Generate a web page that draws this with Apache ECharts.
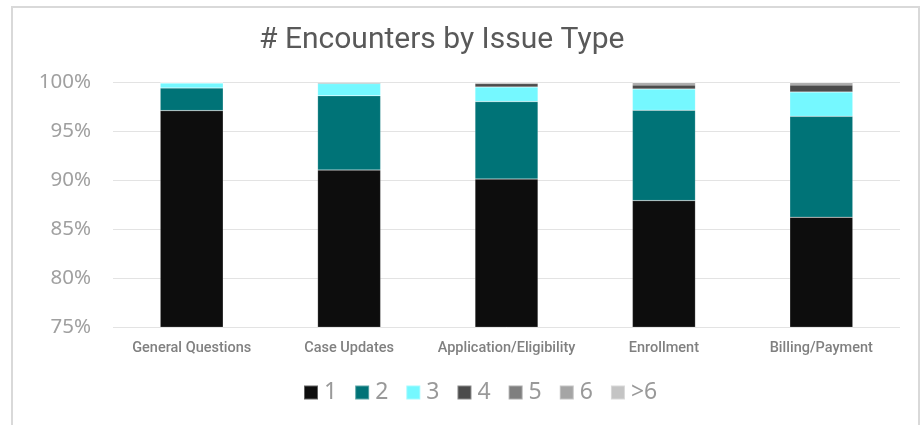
<!DOCTYPE html>
<html><head><meta charset="utf-8">
<script src="https://cdn.jsdelivr.net/npm/echarts@6/dist/echarts.min.js"></script>
<style>html,body{margin:0;padding:0;background:#fff}#c{width:922px;height:425px}</style>
</head><body><div id="c"></div>
<script>
const categories = ['General Questions','Case Updates','Application/Eligibility','Enrollment','Billing/Payment'];
const seriesNames = ['1','2','3','4','5','6','>6'];
const s1 = [97.08, 91.02, 90.10, 87.90, 86.20];
const s2 = [2.31, 7.58, 7.90, 9.22, 10.30];
const s3 = [0.50, 1.24, 1.49, 2.17, 2.48];
const s4 = [0.05, 0.12, 0.35, 0.41, 0.72];
const s5 = [0.03, 0.03, 0.10, 0.20, 0.20];
const s6 = [0.02, 0.01, 0.04, 0.06, 0.06];
const s7 = [0.01, 0.00, 0.02, 0.04, 0.04];
const yTicks = [75, 80, 85, 90, 95, 100];
const colors = ['#0d0d0d','#007377','#75f8ff','#4b4b4b','#7f7f7f','#a5a5a5','#c4c4c4'];
const allData = [s1,s2,s3,s4,s5,s6,s7];

const chart = echarts.init(document.getElementById('c'));
chart.setOption({
  animation: false,
  color: colors,
  title: {
    text: '# Encounters by Issue Type', left: 254, top: 20,
    textStyle: {fontFamily: 'Roboto', fontSize: 30, fontWeight: 'normal', color: '#595959'}
  },
  graphic: [{type:'rect', shape:{x:12, y:7, width:907, height:440}, style:{fill:'none', stroke:'#d9d9d9', lineWidth:2}, silent:true}],
  grid: {left: 113, right: 22, top: 82, bottom: 98},
  legend: {
    data: seriesNames, bottom: 16, left: 298, itemWidth: 14, itemHeight: 14, itemGap: 17,
    icon: 'rect',
    textStyle: {fontFamily: 'Noto Sans', fontSize: 23, color: '#999999', padding:[0,0,0,1]}
  },
  xAxis: {
    type: 'category', data: categories,
    axisLine: {show: false}, axisTick: {show: false},
    axisLabel: {interval: 0, fontFamily: 'Roboto', fontWeight: 500, fontSize: 14.5, color: '#808080', margin: 14}
  },
  yAxis: {
    type: 'value', min: yTicks[0], max: yTicks[yTicks.length-1], interval: 5,
    axisLine: {show: false}, axisTick: {show: false},
    splitLine: {lineStyle: {color: '#e3e3e3', width: 1}},
    axisLabel: {formatter: v => v + '%', fontFamily: 'Noto Sans', fontSize: 20.5, color: '#a0a0a0', margin: 22}
  },
  series: seriesNames.map((n, i) => ({
    name: n, type: 'bar', stack: 'total', barWidth: 63,
    data: allData[i],
    itemStyle: {color: colors[i], borderColor: 'rgba(255,255,255,0.35)', borderWidth: 0.5}
  }))
});
</script></body></html>
